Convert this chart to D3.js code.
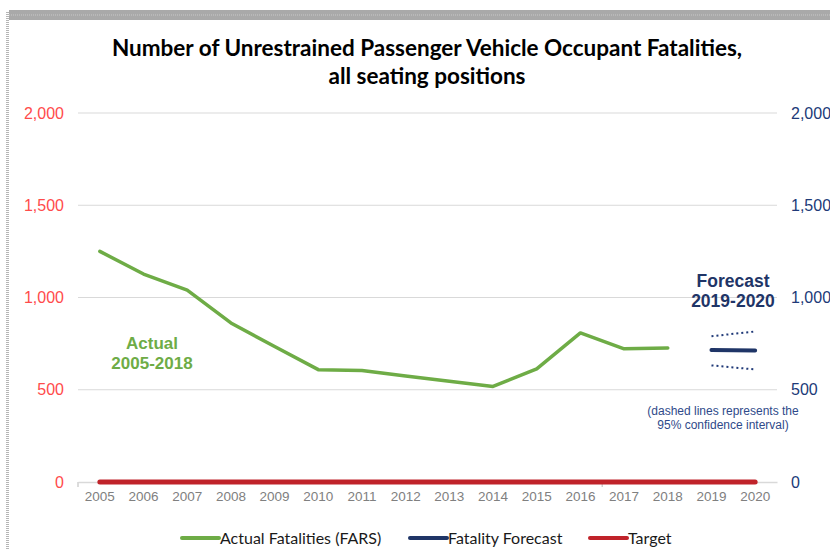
<!DOCTYPE html>
<html>
<head>
<meta charset="utf-8">
<script src="https://cdn.jsdelivr.net/npm/d3@7"></script>
<style>
  body { margin: 0; background: #fff; }
  svg { display: block; }
</style>
</head>
<body>
<svg width="830" height="550"></svg>
<script>
// data
var years = d3.range(2005, 2021);
var actualYears = d3.range(2005, 2019);
var actualValues = [1250, 1127, 1040, 862, 734, 609, 604, 574, 546, 518, 613, 808, 722, 726];
var forecastYears = [2019, 2020];
var forecastValues = [715, 713];
var upperValues = [790, 816];
var lowerValues = [632, 610];
var targetValues = years.map(function() { return 0; });
var yTicks = [0, 500, 1000, 1500, 2000];

var svg = d3.select("svg");

var margin = { top: 113, left: 78, right: 777, bottom: 482 };

// frame round the picture
svg.append("rect")
  .attr("x", 9).attr("y", 10)
  .attr("width", 830).attr("height", 10)
  .attr("fill", "#a9a9a9");
svg.append("line")
  .attr("x1", 9).attr("x2", 830)
  .attr("y1", 15).attr("y2", 15)
  .attr("stroke", "#c8c8c8")
  .attr("stroke-dasharray", "1,1");
svg.append("line")
  .attr("x1", 7.5).attr("x2", 7.5)
  .attr("y1", 12).attr("y2", 550)
  .attr("stroke", "#b5b5b5")
  .attr("stroke-width", 3)
  .attr("stroke-dasharray", "1,1");

// scales
var x = d3.scaleBand()
  .domain(years)
  .range([margin.left, margin.right]);

var y = d3.scaleLinear()
  .domain([0, 2000])
  .range([margin.bottom, margin.top]);

function cx(d) { return x(d) + x.bandwidth() / 2; }

// title
var title = svg.append("text")
  .attr("x", 427)
  .attr("text-anchor", "middle")
  .style("font-family", "Lato, 'Open Sans', sans-serif")
  .style("font-weight", "bold")
  .style("font-size", "22.5px")
  .attr("fill", "#000");
title.append("tspan").attr("x", 427).attr("y", 56)
  .text("Number of Unrestrained Passenger Vehicle Occupant Fatalities,");
title.append("tspan").attr("x", 427).attr("y", 84)
  .text("all seating positions");

// gridlines
svg.append("g")
  .selectAll("line")
  .data(yTicks.filter(function(d) { return d > 0; }))
  .enter()
  .append("line")
  .attr("x1", margin.left).attr("x2", margin.right)
  .attr("y1", function(d) { return y(d); })
  .attr("y2", function(d) { return y(d); })
  .attr("stroke", "#d9d9d9")
  .attr("stroke-width", 1);

// left axis
var leftAxis = svg.append("g")
  .attr("transform", "translate(64,0)")
  .call(d3.axisLeft(y).tickValues(yTicks).tickSize(0).tickPadding(0).tickFormat(d3.format(",")));
leftAxis.select(".domain").remove();
leftAxis.selectAll("text")
  .style("font-family", "'Liberation Sans', Arial, sans-serif")
  .style("font-size", "16px")
  .attr("fill", "#ff4b4b");

// right axis
var rightAxis = svg.append("g")
  .attr("transform", "translate(791,0)")
  .call(d3.axisRight(y).tickValues(yTicks).tickSize(0).tickPadding(0).tickFormat(d3.format(",")));
rightAxis.select(".domain").remove();
rightAxis.selectAll("text")
  .style("font-family", "'Liberation Sans', Arial, sans-serif")
  .style("font-size", "16px")
  .attr("fill", "#203a78");

// bottom axis
var bottomAxis = svg.append("g")
  .attr("transform", "translate(0," + margin.bottom + ")")
  .call(d3.axisBottom(x).tickSize(0).tickPadding(9));
bottomAxis.select(".domain")
  .attr("stroke", "#d9d9d9")
  .attr("stroke-width", 1.5);
bottomAxis.selectAll("text")
  .style("font-family", "'Liberation Sans', Arial, sans-serif")
  .style("font-size", "13.5px")
  .attr("fill", "#808080");
// stray tick marks on the category axis
bottomAxis.selectAll(".edge")
  .data([2005, 2017])
  .enter()
  .append("line")
  .attr("x1", function(d) { return x(d); })
  .attr("x2", function(d) { return x(d); })
  .attr("y1", 0).attr("y2", 5)
  .attr("stroke", "#d0d0d0")
  .attr("stroke-width", 1.5);

// line generator
var line = d3.line()
  .x(function(d) { return cx(d[0]); })
  .y(function(d) { return y(d[1]); });

// target
svg.append("path")
  .datum(d3.zip(years, targetValues))
  .attr("d", line)
  .attr("fill", "none")
  .attr("stroke", "#c0232a")
  .attr("stroke-width", 5)
  .attr("stroke-linecap", "round");

// actual
svg.append("path")
  .datum(d3.zip(actualYears, actualValues))
  .attr("d", line)
  .attr("fill", "none")
  .attr("stroke", "#6eac46")
  .attr("stroke-width", 3.5)
  .attr("stroke-linejoin", "round")
  .attr("stroke-linecap", "round");

// forecast confidence bounds
[upperValues, lowerValues].forEach(function(vals) {
  svg.append("path")
    .datum(d3.zip(forecastYears, vals))
    .attr("d", line)
    .attr("fill", "none")
    .attr("stroke", "#203a78")
    .attr("stroke-width", 2)
    .attr("stroke-dasharray", "2,3");
});

// forecast
svg.append("path")
  .datum(d3.zip(forecastYears, forecastValues))
  .attr("d", line)
  .attr("fill", "none")
  .attr("stroke", "#1f3567")
  .attr("stroke-width", 4)
  .attr("stroke-linecap", "round");

// annotations
function label(lines, xp, yp, size, color, weight, gap) {
  var t = svg.append("text")
    .attr("text-anchor", "middle")
    .style("font-family", "'Liberation Sans', Arial, sans-serif")
    .style("font-size", size + "px")
    .style("font-weight", weight)
    .attr("fill", color);
  lines.forEach(function(s, i) {
    t.append("tspan").attr("x", xp).attr("y", yp + i * gap).text(s);
  });
}
label(["Actual", "2005-2018"], 152, 349, 17, "#6eac46", "bold", 19.5);
label(["Forecast", "2019-2020"], 733, 287, 17.5, "#1f3567", "bold", 20);
label(["(dashed lines represents the", "95% confidence interval)"], 723, 415, 12, "#2f4a8a", "normal", 14);

// legend
var legendItems = [
  { name: "Actual Fatalities (FARS)", color: "#6eac46", x: 182 },
  { name: "Fatality Forecast", color: "#1f3567", x: 410 },
  { name: "Target", color: "#c0232a", x: 590 }
];
var legend = svg.append("g").selectAll("g")
  .data(legendItems)
  .enter()
  .append("g")
  .attr("transform", function(d) { return "translate(" + d.x + ",538)"; });
legend.append("line")
  .attr("x1", 0).attr("x2", 37)
  .attr("y1", 0).attr("y2", 0)
  .attr("stroke", function(d) { return d.color; })
  .attr("stroke-width", 4)
  .attr("stroke-linecap", "round");
legend.append("text")
  .attr("x", 38)
  .attr("y", 6)
  .style("font-family", "Lato, 'Open Sans', sans-serif")
  .style("font-size", "16px")
  .attr("fill", "#1a1a1a")
  .text(function(d) { return d.name; });
</script>
</body>
</html>
